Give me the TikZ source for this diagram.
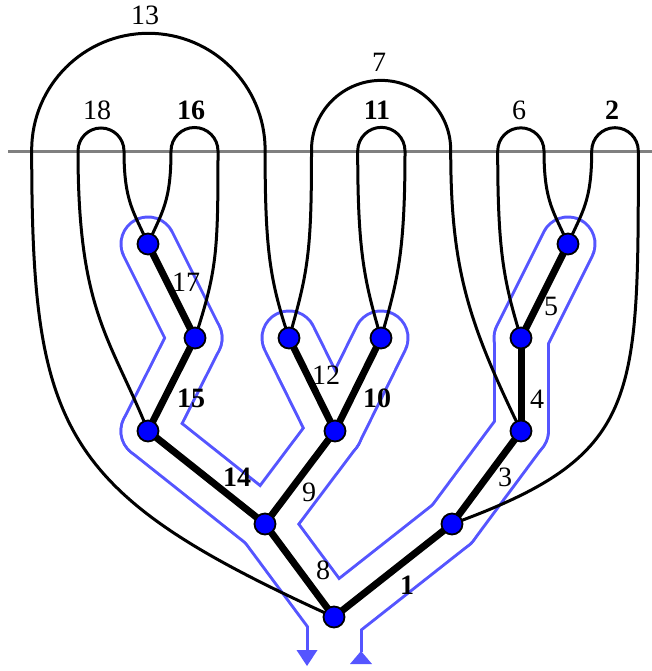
\documentclass[tikz,border=0pt]{standalone}
\usepackage{fontspec}
\setmainfont{Liberation Serif}
\definecolor{contour}{RGB}{85,85,255}
\definecolor{vblue}{RGB}{0,0,255}
\definecolor{axisgray}{RGB}{128,128,128}
\begin{document}
\begin{tikzpicture}[x=1pt,y=1pt,
  loopline/.style={line width=3pt, black},
  treeedge/.style={line width=7pt, black},
  vtx/.style={circle, fill=vblue, draw=black, line width=1.8pt, minimum size=21pt, inner sep=0pt},
  lbl/.style={font=\fontsize{28}{30}\selectfont, inner sep=0pt},
  blbl/.style={font=\fontsize{28}{30}\selectfont\bfseries, inner sep=0pt},
]
\useasboundingbox (0,0) rectangle (652,-671);
% vertex positions
\coordinate (R) at (334,-617);
\coordinate (A) at (452,-524);
\coordinate (B) at (521,-431);
\coordinate (C) at (521,-338);
\coordinate (D) at (568,-244);
\coordinate (E) at (265,-524);
\coordinate (F) at (335,-431);
\coordinate (G) at (289,-338);
\coordinate (H) at (381,-338);
\coordinate (I) at (148,-431);
\coordinate (J) at (195,-338);
\coordinate (K) at (148,-244);
% blue contour around the tree
\begin{scope}
  \clip (0,0) rectangle (652,-651);
  \foreach \a/\b in {R/A,A/B,B/C,C/D,R/E,E/F,F/H,F/G,E/I,I/J,J/K}
    \draw[contour, line width=57pt, line cap=round] (\a) -- (\b);
  \draw[contour, line width=57pt] (R) -- ++(0,-80);
  \foreach \a/\b in {R/A,A/B,B/C,C/D,R/E,E/F,F/H,F/G,E/I,I/J,J/K}
    \draw[white, line width=51pt, line cap=round] (\a) -- (\b);
  \draw[white, line width=51pt] (R) -- ++(0,-80);
\end{scope}
\fill[contour] (296.5,-650) -- (317.5,-650) -- (307,-666) -- cycle;
\fill[contour] (350,-664) -- (372,-664) -- (361,-651) -- cycle;
% horizontal line
\draw[axisgray, line width=3pt] (8,-152) -- (652,-152);
% loops
\draw[loopline] (R) .. controls (60.7,-493) and (31.7,-432) .. (31.7,-150)
  arc[start angle=180, end angle=0, radius=116.7]
  .. controls (265,-250) and (270,-281) .. (G);
\draw[loopline] (I) .. controls (110.5,-338) and (78,-312) .. (78,-151)
  arc[start angle=180, end angle=0, radius=23]
  .. controls (124,-202) and (134,-212) .. (K);
\draw[loopline] (K) .. controls (162,-212) and (171,-202) .. (171,-151)
  arc[start angle=180, end angle=0, radius=23.5]
  .. controls (218,-252) and (217,-270) .. (J);
\draw[loopline] (G) .. controls (308.5,-271) and (311.5,-250) .. (311.5,-150)
  arc[start angle=180, end angle=0, radius=69.6]
  .. controls (450.7,-270) and (468.7,-323) .. (B);
\draw[loopline] (H) .. controls (364.2,-280.4) and (357.7,-252) .. (357.7,-151)
  arc[start angle=180, end angle=0, radius=23.65]
  .. controls (405,-252) and (397.8,-280.4) .. (H);
\draw[loopline] (C) .. controls (503.5,-280.6) and (497.7,-251) .. (497.7,-151)
  arc[start angle=180, end angle=0, radius=23.15]
  .. controls (544,-202) and (554,-212) .. (D);
\draw[loopline] (D) .. controls (582,-212) and (591.7,-202) .. (591.7,-151)
  arc[start angle=180, end angle=0, radius=23.3]
  .. controls (638.3,-402) and (640,-455.6) .. (A);
% tree edges
\foreach \a/\b in {R/A,A/B,B/C,C/D,R/E,E/F,F/H,F/G,E/I,I/J,J/K}
  \draw[treeedge] (\a) -- (\b);
% vertices
\foreach \v in {R,A,B,C,D,E,F,G,H,I,J,K}
  \node[vtx] (v\v) at (\v) {};
% loop labels
\node[lbl]  (l13) at (145,-15) {13};
\node[lbl]  (l18) at (97,-110) {18};
\node[blbl] (l16) at (191,-110) {16};
\node[lbl]  (l7)  at (379,-62) {7};
\node[blbl] (l11) at (377,-110) {11};
\node[lbl]  (l6)  at (519,-110) {6};
\node[blbl] (l2)  at (612,-110) {2};
% edge labels
\node[lbl]  (l17) at (186,-282) {17};
\node[blbl] (l15) at (191,-398) {15};
\node[blbl] (l14) at (237,-477) {14};
\node[lbl]  (l12) at (326,-375) {12};
\node[blbl] (l10) at (377,-398) {10};
\node[lbl]  (l9)  at (309,-492) {9};
\node[lbl]  (l8)  at (323,-570) {8};
\node[blbl] (l1)  at (407,-585) {1};
\node[lbl]  (l3)  at (505,-477) {3};
\node[lbl]  (l4)  at (537,-399) {4};
\node[lbl]  (l5)  at (551,-306) {5};
\end{tikzpicture}
\end{document}
